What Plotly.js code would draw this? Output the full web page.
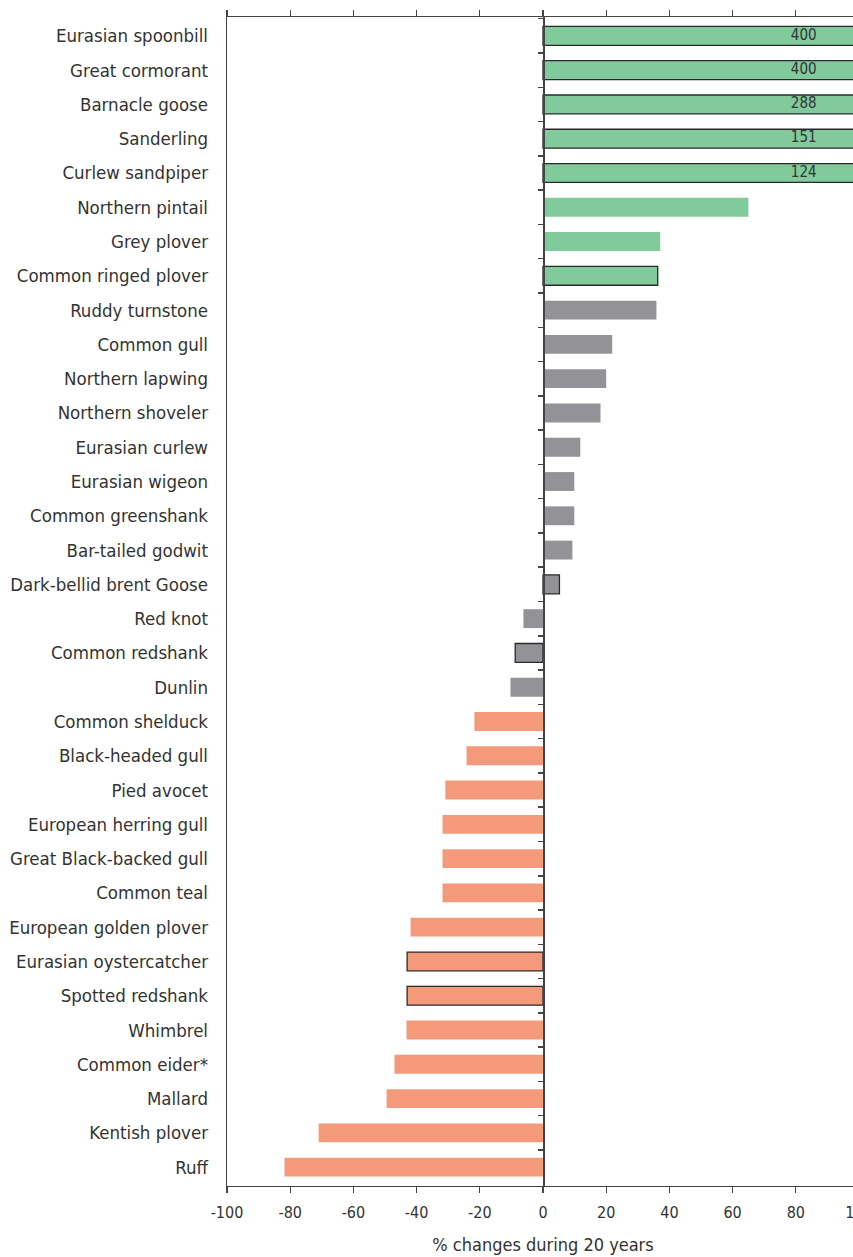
<!DOCTYPE html>
<html>
<head>
<meta charset="utf-8">
<script src="https://cdn.plot.ly/plotly-3.0.1.min.js"></script>
<style>
html, body { margin:0; padding:0; overflow:hidden; background:#fff; }
#chart { width:860px; height:1257px; }
</style>
</head>
<body>
<div id="chart"></div>
<script>
const species = [
  "Eurasian spoonbill","Great cormorant","Barnacle goose","Sanderling","Curlew sandpiper",
  "Northern pintail","Grey plover","Common ringed plover","Ruddy turnstone","Common gull",
  "Northern lapwing","Northern shoveler","Eurasian curlew","Eurasian wigeon","Common greenshank",
  "Bar-tailed godwit","Dark-bellid brent Goose","Red knot","Common redshank","Dunlin",
  "Common shelduck","Black-headed gull","Pied avocet","European herring gull","Great Black-backed gull",
  "Common teal","European golden plover","Eurasian oystercatcher","Spotted redshank","Whimbrel",
  "Common eider*","Mallard","Kentish plover","Ruff"
];
const changes = [
  400, 400, 288, 151, 124,
  65, 37.1, 36.3, 35.9, 21.9,
  20.0, 18.2, 11.8, 9.9, 9.9,
  9.3, 5.2, -6.2, -8.8, -10.3,
  -21.7, -24.2, -30.9, -31.8, -31.8,
  -31.8, -41.9, -43.0, -43.0, -43.2,
  -47.0, -49.5, -71.0, -81.8
];
// trend group: "inc" = increase, "stable" = stable, "dec" = decrease
const trend = [
  "inc","inc","inc","inc","inc",
  "inc","inc","inc","stable","stable",
  "stable","stable","stable","stable","stable",
  "stable","stable","stable","stable","stable",
  "dec","dec","dec","dec","dec",
  "dec","dec","dec","dec","dec",
  "dec","dec","dec","dec"
];
// species drawn with an outlined bar
const outlined = [
  true,true,true,true,true,
  false,false,true,false,false,
  false,false,false,false,false,
  false,true,false,true,false,
  false,false,false,false,false,
  false,false,true,true,false,
  false,false,false,false
];
// value labels for bars that run beyond the axis
const overflowLabels = ["400","400","288","151","124"];
const tickValues = [-100,-80,-60,-40,-20,0,20,40,60,80,100];
const tickLabels = ["-100","-80","-60","-40","-20","0","20","40","60","80","100"];

const trendColor = { inc:"#80CA9B", stable:"#939297", dec:"#F4997A" };
const FONT = "'DejaVu Sans Condensed', 'Noto Sans', sans-serif";
const INK = "#333333";

const nCat = species.length;
const yRange = [nCat - 1 + 0.55, -0.55];

const bars = {
  type: "bar",
  orientation: "h",
  y: species,
  x: changes,
  width: 0.55,
  marker: {
    color: trend.map(t => trendColor[t]),
    line: {
      color: "#2a2a2a",
      width: outlined.map(o => o ? 1.3 : 0)
    }
  },
  hoverinfo: "x+y",
  showlegend: false,
  cliponaxis: true
};

const labelSpecies = species.slice(0, overflowLabels.length);
const labels = {
  type: "scatter",
  mode: "text",
  y: labelSpecies,
  x: labelSpecies.map(() => 82.5),
  text: overflowLabels,
  textposition: "middle center",
  textfont: { family: FONT, size: 15, color: INK },
  yaxis: "y2",
  showlegend: false,
  hoverinfo: "skip",
  cliponaxis: false
};

const layout = {
  width: 860,
  height: 1257,
  margin: { l: 226.6, r: 1.4, t: 17, b: 71 },
  paper_bgcolor: "#ffffff",
  plot_bgcolor: "#ffffff",
  font: { family: FONT, color: INK, size: 18.5 },
  xaxis: {
    range: [-100, 100],
    tickvals: tickValues,
    ticktext: tickLabels,
    ticklabeloverflow: "allow",
    showgrid: false,
    zeroline: false,
    showline: true,
    linecolor: "#444",
    linewidth: 1.3,
    mirror: "ticks",
    ticks: "outside",
    ticklen: 6,
    tickwidth: 1.3,
    tickcolor: "#444",
    ticklabelstandoff: 5,
    tickfont: { family: FONT, size: 16, color: INK },
    title: { text: "% changes during 20 years", font: { family: FONT, size: 18, color: INK }, standoff: 18 }
  },
  yaxis: {
    type: "category",
    categoryarray: species,
    categoryorder: "array",
    range: yRange,
    autorange: false,
    showgrid: false,
    zeroline: false,
    showline: true,
    linecolor: "#444",
    linewidth: 1.3,
    ticks: "",
    ticklabelstandoff: 14,
    tickfont: { family: FONT, size: 18.5, color: INK }
  },
  yaxis2: {
    type: "category",
    categoryarray: species,
    categoryorder: "array",
    range: yRange,
    autorange: false,
    overlaying: "y",
    anchor: "free",
    position: 0.5,
    side: "left",
    showgrid: false,
    zeroline: false,
    showline: true,
    linecolor: "#444",
    linewidth: 1.5,
    ticks: "outside",
    tickson: "boundaries",
    ticklen: 5,
    tickwidth: 1.5,
    tickcolor: "#444",
    showticklabels: false
  }
};

Plotly.newPlot("chart", [bars, labels], layout, { staticPlot: true, displayModeBar: false });
</script>
</body>
</html>
